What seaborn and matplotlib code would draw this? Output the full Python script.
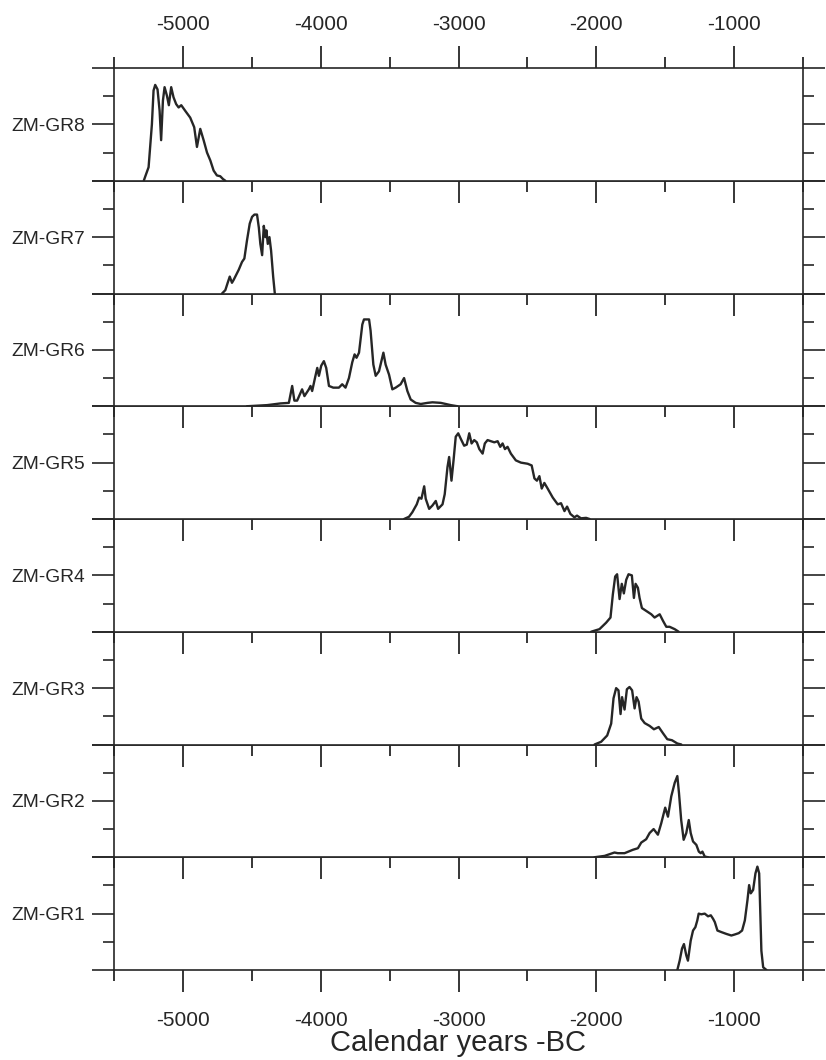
import matplotlib
matplotlib.use("Agg")
import matplotlib.pyplot as plt
import pandas as pd
import seaborn as sns

sns.set_style("white")
plt.rcParams['font.family'] = ['Liberation Sans', 'DejaVu Sans']
plt.rcParams['axes.unicode_minus'] = False

# Sample names, top to bottom
samples = ["ZM-GR8", "ZM-GR7", "ZM-GR6", "ZM-GR5", "ZM-GR4", "ZM-GR3", "ZM-GR2", "ZM-GR1"]

# Calibrated age probability curves (years BC as negative, relative probability)
gr8_years = [-5284, -5274, -5249, -5225, -5213, -5201, -5184, -5169, -5158, -5145, -5133,
             -5116, -5102, -5085, -5068, -5049, -5031, -5012, -4983, -4947, -4918, -4898,
             -4874, -4849, -4825, -4801, -4777, -4753, -4729, -4709, -4692]
gr8_prob = [0.0, 0.035, 0.12, 0.50, 0.80, 0.85, 0.81, 0.62, 0.36, 0.71, 0.83,
            0.755, 0.67, 0.83, 0.74, 0.68, 0.65, 0.67, 0.62, 0.56, 0.475, 0.30,
            0.46, 0.357, 0.25, 0.18, 0.09, 0.047, 0.04, 0.015, 0.0]

gr7_years = [-4716, -4692, -4675, -4660, -4644, -4632, -4595, -4571, -4554, -4535, -4515,
             -4498, -4481, -4462, -4449, -4438, -4425, -4413, -4401, -4394, -4384, -4372,
             -4360, -4345, -4333]
gr7_prob = [0.0, 0.03, 0.095, 0.15, 0.095, 0.12, 0.21, 0.28, 0.31, 0.47, 0.62,
            0.68, 0.70, 0.70, 0.585, 0.44, 0.34, 0.60, 0.50, 0.56, 0.44, 0.50,
            0.38, 0.15, 0.0]

gr6_years = [-4535, -4389, -4292, -4231, -4207, -4191, -4171, -4135, -4118, -4086, -4074,
             -4062, -4038, -4025, -4013, -3996, -3977, -3960, -3940, -3909, -3868, -3844,
             -3820, -3795, -3771, -3754, -3740, -3722, -3698, -3686, -3649, -3638, -3618,
             -3601, -3577, -3545, -3529, -3504, -3480, -3456, -3420, -3395, -3371, -3347,
             -3311, -3274, -3225, -3189, -3129, -3092, -3056, -3007]
gr6_prob = [0.0, 0.01, 0.025, 0.03, 0.18, 0.05, 0.05, 0.15, 0.09, 0.15, 0.18,
            0.135, 0.27, 0.34, 0.27, 0.36, 0.40, 0.34, 0.18, 0.165, 0.165, 0.195,
            0.165, 0.25, 0.39, 0.46, 0.43, 0.475, 0.725, 0.77, 0.77, 0.67, 0.37,
            0.27, 0.31, 0.475, 0.37, 0.28, 0.15, 0.165, 0.195, 0.25, 0.135, 0.06,
            0.03, 0.02, 0.03, 0.035, 0.03, 0.02, 0.01, 0.0]

gr5_years = [-3395, -3359, -3335, -3303, -3286, -3269, -3249, -3238, -3213, -3189, -3165,
             -3148, -3116, -3100, -3080, -3068, -3051, -3036, -3020, -3002, -2983, -2959,
             -2940, -2922, -2905, -2886, -2867, -2849, -2825, -2809, -2789, -2765, -2740,
             -2716, -2697, -2680, -2663, -2644, -2620, -2584, -2547, -2498, -2469, -2449,
             -2431, -2413, -2396, -2377, -2353, -2316, -2280, -2256, -2231, -2212, -2188,
             -2159, -2140, -2111, -2074, -2049]
gr5_prob = [0.0, 0.02, 0.06, 0.13, 0.19, 0.18, 0.29, 0.18, 0.09, 0.12, 0.16,
            0.09, 0.13, 0.22, 0.46, 0.55, 0.34, 0.52, 0.73, 0.76, 0.71, 0.65,
            0.66, 0.76, 0.67, 0.70, 0.68, 0.62, 0.58, 0.67, 0.70, 0.69, 0.68,
            0.69, 0.64, 0.67, 0.62, 0.64, 0.58, 0.52, 0.50, 0.49, 0.475, 0.36,
            0.34, 0.38, 0.27, 0.32, 0.27, 0.19, 0.13, 0.14, 0.07, 0.11, 0.045,
            0.015, 0.03, 0.006, 0.01, 0.0]

gr4_years = [-2038, -1977, -1929, -1897, -1880, -1863, -1849, -1831, -1815, -1800, -1783,
             -1766, -1742, -1727, -1715, -1698, -1686, -1669, -1638, -1601, -1577, -1540,
             -1516, -1492, -1468, -1431, -1402]
gr4_prob = [0.0, 0.023, 0.08, 0.126, 0.33, 0.49, 0.51, 0.29, 0.425, 0.34, 0.46,
            0.51, 0.50, 0.30, 0.425, 0.39, 0.30, 0.21, 0.185, 0.155, 0.126, 0.155,
            0.097, 0.044, 0.044, 0.023, 0.0]

gr3_years = [-2013, -1965, -1921, -1892, -1875, -1856, -1839, -1824, -1813, -1795, -1778,
             -1759, -1740, -1722, -1708, -1693, -1674, -1649, -1613, -1582, -1547, -1516,
             -1485, -1451, -1412, -1383]
gr3_prob = [0.0, 0.024, 0.08, 0.185, 0.41, 0.50, 0.48, 0.27, 0.42, 0.31, 0.49,
            0.51, 0.48, 0.32, 0.42, 0.38, 0.23, 0.19, 0.165, 0.135, 0.155, 0.10,
            0.047, 0.038, 0.009, 0.0]

gr2_years = [-2013, -1940, -1868, -1844, -1795, -1735, -1698, -1674, -1638, -1613, -1584,
             -1553, -1529, -1500, -1480, -1456, -1431, -1412, -1400, -1384, -1366, -1347,
             -1329, -1315, -1298, -1274, -1256, -1242, -1230, -1213, -1189]
gr2_prob = [0.0, 0.012, 0.042, 0.036, 0.036, 0.066, 0.08, 0.13, 0.16, 0.215, 0.25,
            0.20, 0.30, 0.44, 0.36, 0.54, 0.66, 0.72, 0.57, 0.33, 0.155, 0.215,
            0.33, 0.215, 0.14, 0.11, 0.05, 0.036, 0.05, 0.006, 0.0]

gr1_years = [-1412, -1395, -1378, -1364, -1347, -1335, -1315, -1298, -1281, -1267, -1257,
             -1238, -1213, -1189, -1169, -1153, -1140, -1121, -1092, -1056, -1020, -995,
             -966, -942, -922, -903, -891, -879, -862, -845, -831, -818, -809, -802,
             -789, -765]
gr1_prob = [0.0, 0.083, 0.19, 0.23, 0.13, 0.083, 0.26, 0.35, 0.38, 0.44, 0.50,
            0.494, 0.50, 0.476, 0.485, 0.455, 0.425, 0.35, 0.336, 0.32, 0.306, 0.315,
            0.327, 0.35, 0.44, 0.62, 0.753, 0.68, 0.71, 0.857, 0.917, 0.857, 0.47, 0.17,
            0.024, 0.0]

# Axis tick values
major_years = [-5000, -4000, -3000, -2000, -1000]
minor_years = [-5500, -4500, -3500, -2500, -1500, -500]

curves = {
    "ZM-GR8": (gr8_years, gr8_prob),
    "ZM-GR7": (gr7_years, gr7_prob),
    "ZM-GR6": (gr6_years, gr6_prob),
    "ZM-GR5": (gr5_years, gr5_prob),
    "ZM-GR4": (gr4_years, gr4_prob),
    "ZM-GR3": (gr3_years, gr3_prob),
    "ZM-GR2": (gr2_years, gr2_prob),
    "ZM-GR1": (gr1_years, gr1_prob),
}
df = pd.concat(
    [pd.DataFrame({"sample": s, "year": curves[s][0], "prob": curves[s][1]}) for s in samples],
    ignore_index=True,
)

ink = "#262626"
n = len(samples)
fig, axes = plt.subplots(n, 1, figsize=(8.26, 10.60), dpi=100)
fig.subplots_adjust(left=114 / 826, right=803 / 826, top=1 - 68 / 1060,
                    bottom=1 - 970 / 1060, hspace=0)

for i, (ax, name) in enumerate(zip(axes, samples)):
    # upper panels drawn last so their outward bottom ticks reach into the panel below
    ax.set_zorder(n - i)
    sub = df[df["sample"] == name]
    sns.lineplot(data=sub, x="year", y="prob", ax=ax, color=ink, linewidth=1.7,
                 estimator=None, sort=True)
    ax.set_xlim(-5500, -500)
    ax.set_ylim(0, 1)
    ax.set_xlabel("")
    ax.set_ylabel("")
    for sp in ax.spines.values():
        sp.set_visible(True)
        sp.set_color(ink)
        sp.set_linewidth(1.2)

    ax.set_xticks(major_years)
    ax.set_xticks(minor_years, minor=True)
    ax.set_yticks([0, 0.5, 1])
    ax.set_yticklabels(["", name, ""])
    ax.set_yticks([0.25, 0.75], minor=True)

    ax.tick_params(axis="y", which="major", direction="out", length=15.8, width=1.2,
                   color=ink, left=True, right=True, labelleft=True, labelright=False,
                   labelsize=13.8, pad=5, labelcolor=ink)
    ax.tick_params(axis="y", which="minor", direction="out", length=8, width=1.2,
                   color=ink, left=True, right=True)
    ax.tick_params(axis="x", which="major", direction="out", length=15.8, width=1.3,
                   color=ink, bottom=True, top=(i == 0),
                   labelbottom=(i == n - 1), labeltop=(i == 0),
                   labelsize=15, pad=(9 if i == 0 else 14), labelcolor=ink)
    ax.tick_params(axis="x", which="minor", direction="out", length=8, width=1.3,
                   color=ink, bottom=True, top=(i == 0))

axes[-1].set_xlabel("Calendar years -BC", fontsize=21, color=ink, labelpad=-1)

fig.savefig("out.png", dpi=100, facecolor="white")
